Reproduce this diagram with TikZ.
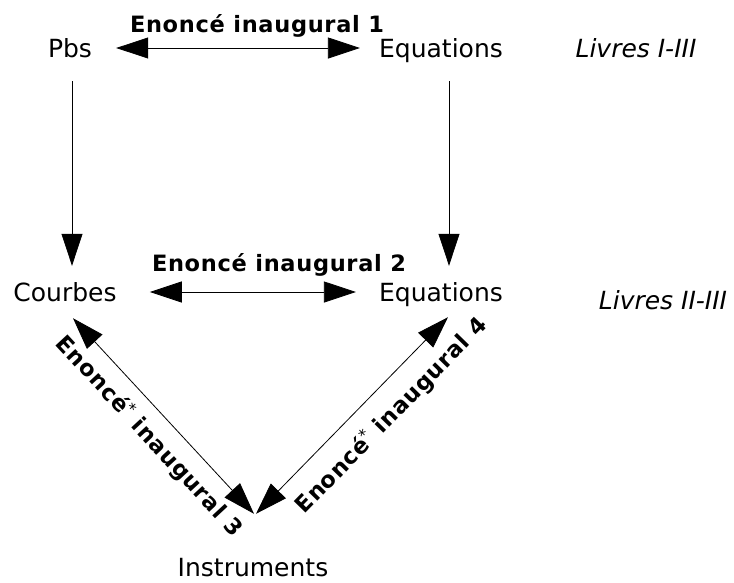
\documentclass[tikz,border=0pt]{standalone}
\usepackage{fontspec}
\setmainfont{DejaVu Sans}
\newfontfamily\labfont[LetterSpace=3]{DejaVu Sans}
\usetikzlibrary{arrows.meta}
\tikzset{
  txt/.style={font=\fontsize{25}{30}\selectfont, inner sep=0pt, anchor=base, text height=18pt, text depth=0pt},
  ital/.style={txt, font=\fontsize{25}{30}\selectfont\itshape},
  lab/.style={font=\labfont\bfseries\fontsize{22.5}{27}\selectfont, inner sep=0pt, text height=16pt, text depth=0pt},
  conn/.style={line width=0.8pt, -{Triangle[length=32pt,width=21pt]}},
  dconn/.style={line width=0.8pt, {Triangle[length=32pt,width=21pt]}-{Triangle[length=32pt,width=21pt]}},
}
\begin{document}
\begin{tikzpicture}[x=1pt,y=-1pt]
\useasboundingbox (0,0) rectangle (734,582);
\node[txt] (pbs) at (70,57) {Pbs};
\node[txt] (eqa) at (441,57) {Equations};
\node[ital] (liva) at (636,57) {Livres I-III};
\node[txt] (crb) at (65,301) {Courbes};
\node[txt] (eqb) at (441,301) {Equations};
\node[ital] (livb) at (663,309) {Livres II-III};
\node[txt] (ins) at (253,576) {Instruments};
\node[lab, anchor=base] (laba) at (257,32) {Enoncé inaugural 1};
\node[lab, anchor=base] (labb) at (279,271) {Enoncé inaugural 2};

\draw[dconn, shorten <=24pt, shorten >=19pt] (pbs.east) -- (eqa.west);
\draw[dconn, shorten <=33pt, shorten >=23pt] (crb.east) -- (eqb.west);
\draw[conn, shorten <=24pt, shorten >=17pt] ([xshift=2pt]pbs.south) -- ([xshift=2pt]pbs.south |- crb.north);
\draw[conn, shorten <=24pt, shorten >=17pt] ([xshift=8pt]eqa.south) -- ([xshift=8pt]eqa.south |- eqb.north);
\draw[dconn] ([xshift=8pt,yshift=-17pt]crb.south) -- node[lab, sloped, below=15pt, pos=0.52] (labc) {Enoncé\textsuperscript{\mdseries *} inaugural 3} ([xshift=1pt,yshift=44pt]ins.north);
\draw[dconn] ([xshift=3pt,yshift=44pt]ins.north) -- node[lab, sloped, below=19pt, pos=0.6] (labd) {Enoncé\textsuperscript{\mdseries *} inaugural 4} ([xshift=7pt,yshift=-16pt]eqb.south);
\end{tikzpicture}
\end{document}
